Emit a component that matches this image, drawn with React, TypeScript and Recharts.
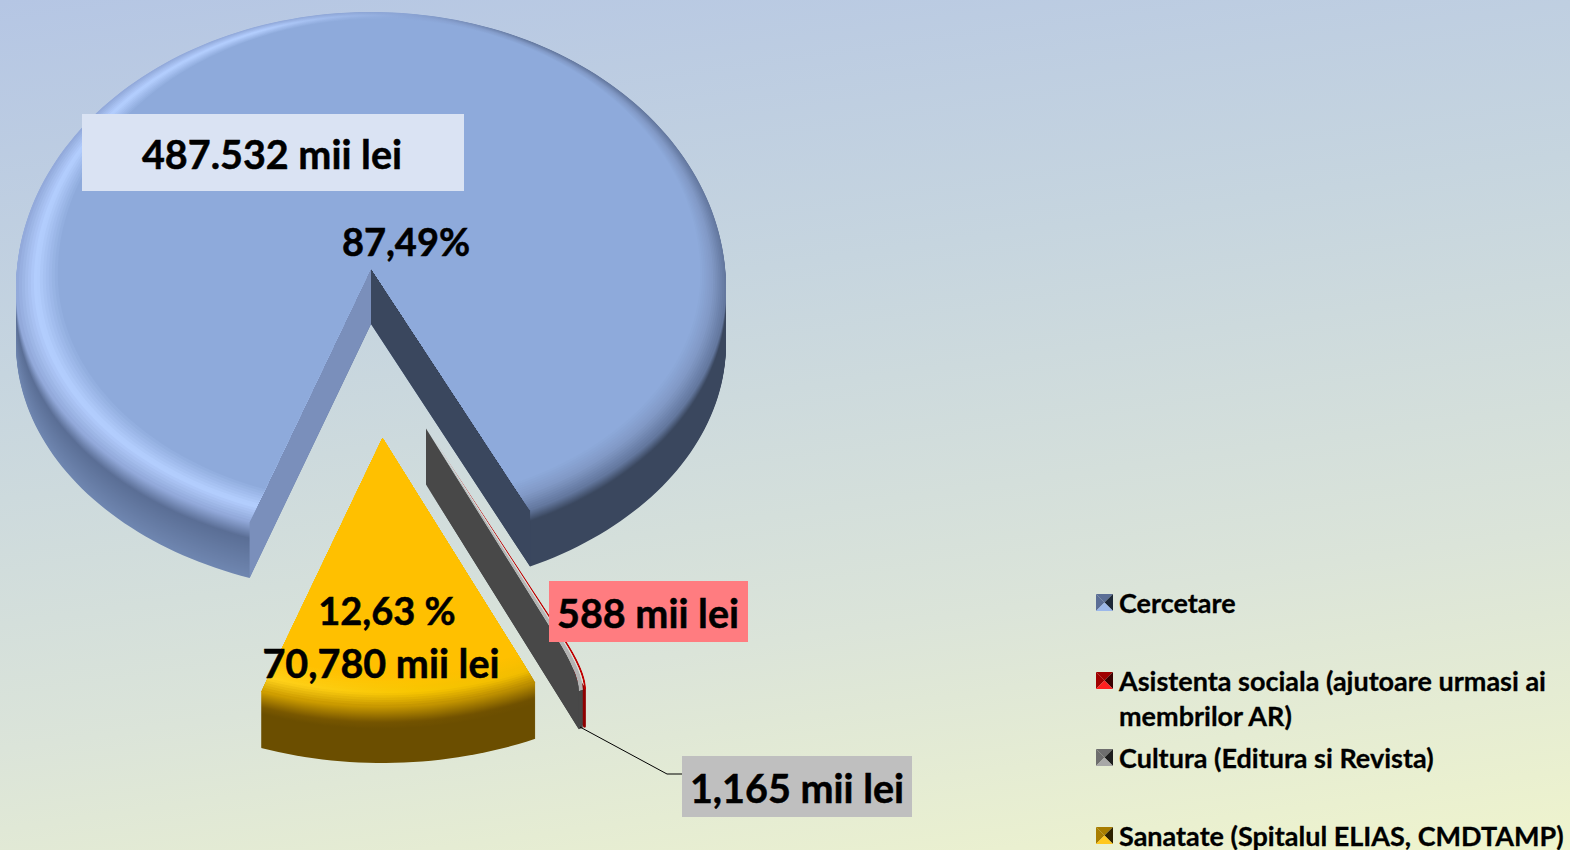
import React from 'react';
import { PieChart, Pie, Legend } from 'recharts';

const categories = [
  'Cercetare',
  'Asistenta sociala (ajutoare urmasi ai membrilor AR)',
  'Cultura (Editura si Revista)',
  'Sanatate (Spitalul ELIAS, CMDTAMP)',
];
const valuesMiiLei = [487532, 588, 1165, 70780];
const chartData = categories.map((name, i) => ({ name, value: valuesMiiLei[i] }));

type Stop = [number, string];
type Look = {
  dx: number; dy: number;
  bevel: boolean;
  left: Stop[]; mid: Stop[]; right: Stop[];
  wallStart?: string; wallEnd?: string;
  icon: [string, string, string, string];
};

// ramp position: 0..1 across the bevel (flat to rim), 1..2 down the side
const looks: Look[] = [
  {
    dx: 0, dy: 0, bevel: true,
    left: [[0, '#8eaadb'], [0.55, '#b4cfff'], [1, '#93aadb'], [1.3, '#5a6e95'], [2, '#6f86b0']],
    mid: [[0, '#8eaadb'], [1, '#8ba4d4'], [1.3, '#5a6e96'], [2, '#56688c']],
    right: [[0, '#8eaadb'], [0.5, '#8199c6'], [1, '#64789f'], [1.2, '#3a475e'], [2, '#3a475e']],
    wallStart: '#7a8fbb', wallEnd: '#3a475e',
    icon: ['#5b6e96', '#5b6e96', '#1d2838', '#9cb8ea'],
  },
  {
    dx: 56, dy: 160.5, bevel: false,
    left: [[0, '#c00000'], [1, '#c00000'], [1.02, '#8f0000'], [2, '#8f0000']],
    mid: [[0, '#c00000'], [1, '#c00000'], [1.02, '#8f0000'], [2, '#8f0000']],
    right: [[0, '#c00000'], [1, '#c00000'], [1.02, '#8f0000'], [2, '#8f0000']],
    icon: ['#a00000', '#a00000', '#3a0000', '#ff2020'],
  },
  {
    dx: 55, dy: 160.5, bevel: false,
    left: [[0, '#b4b4b4'], [1, '#b4b4b4'], [1.02, '#484848'], [2, '#484848']],
    mid: [[0, '#b4b4b4'], [1, '#b4b4b4'], [1.02, '#484848'], [2, '#484848']],
    right: [[0, '#b4b4b4'], [1, '#b4b4b4'], [1.02, '#484848'], [2, '#484848']],
    wallEnd: '#484848',
    icon: ['#6e6e6e', '#6e6e6e', '#1e1e1e', '#a8a8a8'],
  },
  {
    dx: 11.5, dy: 170, bevel: true,
    left: [[0, '#ffc000'], [0.6, '#ffd21c'], [1, '#cf9e00'], [1.28, '#7a5800'], [1.4, '#6b4e00'], [2, '#6b4e00']],
    mid: [[0, '#ffc000'], [0.6, '#f8c600'], [1, '#c69700'], [1.28, '#735300'], [1.4, '#6b4e00'], [2, '#6b4e00']],
    right: [[0, '#ffc000'], [0.6, '#f0bb00'], [1, '#b98c00'], [1.28, '#6f5000'], [1.4, '#6b4e00'], [2, '#6b4e00']],
    icon: ['#a87d00', '#a87d00', '#2e2200', '#ffc81e'],
  },
];

// The disc is seen in perspective: its far half is stretched, its near half squeezed.
const RY_FAR = 276 / 355;
const RY_NEAR = 249 / 355;
const CENTER_DROP = 20;
const DEPTH = 56;
const BEVEL_STEPS = 14;
const THIN_ROUND = 18;

const rgb = (h: string) => [1, 3, 5].map((i) => parseInt(h.slice(i, i + 2), 16));
const mix = (a: string, b: string, t: number) => {
  const x = rgb(a), y = rgb(b);
  return `rgb(${x.map((v, i) => Math.round(v + (y[i] - v) * t)).join(',')})`;
};
const ramp = (stops: Stop[], p: number) => {
  for (let i = 1; i < stops.length; i++) {
    if (p <= stops[i][0]) {
      const t = (p - stops[i - 1][0]) / (stops[i][0] - stops[i - 1][0]);
      return mix(stops[i - 1][1], stops[i][1], Math.max(0, t));
    }
  }
  return stops[stops.length - 1][1];
};

const rad = (a: number) => (a * Math.PI) / 180;

function Slice(props: any) {
  const { cx, cy, outerRadius, startAngle, endAngle, index } = props;
  const i: number = index ?? categories.indexOf(props.name);
  const look = looks[i];
  const ax = cx + look.dx;
  const ay = cy + look.dy;
  const R = outerRadius;

  const onEgg = (a: number, ex: number, ey: number, rx: number, scaleY: number) => {
    const s = Math.sin(rad(a));
    return [
      ex + rx * Math.cos(rad(a)),
      ey - R * (s > 0 ? RY_FAR : RY_NEAR) * scaleY * s,
    ];
  };
  const arc = (from: number, to: number, ex: number, ey: number, rx: number, scaleY: number) => {
    const n = Math.max(2, Math.ceil(Math.abs(to - from) / 1.5));
    const pts: string[] = [];
    for (let j = 0; j <= n; j++) {
      const p = onEgg(from + ((to - from) * j) / n, ex, ey, rx, scaleY);
      pts.push(`${p[0].toFixed(2)},${p[1].toFixed(2)}`);
    }
    return pts;
  };

  const sector = (k: number) =>
    `M${ax},${ay + k}L${arc(startAngle, endAngle, ax, ay + CENTER_DROP + k, R, 1).join('L')}Z`;

  // Thin slices end in a rounded shoulder instead of a sharp corner.
  const shoulder = (angle: number) => {
    const [x, y] = onEgg(angle, ax, ay + CENTER_DROP, R, 1);
    const f = 0.86;
    return {
      inner: [ax + (x - ax) * f, ay + (y - ay) * f],
      corner: [x, y],
      outer: [x, y + THIN_ROUND],
    };
  };
  const thinTop = () => {
    const a = shoulder(startAngle);
    const b = shoulder(endAngle);
    return `M${ax},${ay}L${a.inner}Q${a.corner} ${a.outer}L${b.outer}Q${b.corner} ${b.inner}Z`;
  };
  const wall = (angle: number) => {
    const [x, y] = onEgg(angle, ax, ay + CENTER_DROP, R, 1);
    if (!look.bevel) {
      const s = shoulder(angle);
      return `M${ax},${ay}L${s.inner}Q${s.corner} ${s.outer}L${x},${y + DEPTH}L${ax},${ay + DEPTH}Z`;
    }
    return `M${ax},${ay}L${x},${y}L${x},${y + DEPTH}L${ax},${ay + DEPTH}Z`;
  };

  const layers: { d: string; p: number }[] = [];
  const lastLayer = look.bevel ? 0 : THIN_ROUND;
  for (let k = DEPTH; k >= lastLayer; k -= 1) layers.push({ d: sector(k), p: 1 + k / DEPTH });

  const walls = [
    look.wallStart ? { d: wall(startAngle), f: look.wallStart } : null,
    look.wallEnd ? { d: wall(endAngle), f: look.wallEnd } : null,
  ];

  const surface: { d: string; p: number }[] = [];
  if (look.bevel) {
    for (let s = BEVEL_STEPS; s >= 0; s--) {
      const u = s / BEVEL_STEPS;
      const q = 1 - u;
      surface.push({
        d: `M${arc(0, 360, ax + (8 * q * R) / 355, ay + CENTER_DROP - 14 * q, R * (1 - 0.095 * q), 1 - 0.075 * q).join('L')}Z`,
        p: u,
      });
    }
  } else {
    surface.push({ d: thinTop(), p: 0 });
  }

  const id = (n: number) => `grad-${i}-${n}`;
  const clip = `clip-${i}`;
  const all = [...layers, ...surface];
  const nLayers = layers.length;

  return (
    <g>
      <defs>
        <clipPath id={clip}><path d={look.bevel ? sector(0) : thinTop()} /></clipPath>
        {all.map((l, n) => (
          <linearGradient key={n} id={id(n)} gradientUnits="userSpaceOnUse" x1={ax - R} y1={0} x2={ax + R} y2={0}>
            <stop offset="0" stopColor={ramp(look.left, l.p)} />
            <stop offset="0.34" stopColor={ramp(look.left, l.p)} />
            <stop offset="0.55" stopColor={ramp(look.mid, l.p)} />
            <stop offset="0.72" stopColor={ramp(look.right, l.p)} />
            <stop offset="1" stopColor={ramp(look.right, l.p)} />
          </linearGradient>
        ))}
      </defs>
      {layers.map((l, n) => <path key={n} d={l.d} fill={`url(#${id(n)})`} />)}
      {walls.map((w, n) => (w ? <path key={`w${n}`} d={w.d} fill={w.f} /> : null))}
      <g clipPath={`url(#${clip})`}>
        {surface.map((l, n) => <path key={`s${n}`} d={l.d} fill={`url(#${id(nLayers + n)})`} />)}
      </g>
    </g>
  );
}

const labelFont = { fontFamily: 'Lato, sans-serif', fontWeight: 700, fill: '#000', stroke: '#000', strokeWidth: 0.5 } as const;

function SliceLabel(props: any) {
  const i: number = props.index;
  const t = (x: number, y: number, s: string, size = 39.5) => (
    <text x={x} y={y} textAnchor="middle" dominantBaseline="central" fontSize={size} {...labelFont}>{s}</text>
  );
  if (i === 0) {
    return (
      <g>
        <rect x={82} y={114} width={382} height={77} fill="#dae3f3" />
        {t(272, 153, '487.532 mii lei')}
        {t(406, 241, '87,49%', 38)}
      </g>
    );
  }
  if (i === 1) {
    return (
      <g>
        <rect x={549} y={581} width={199} height={61} fill="#ff7c80" />
        {t(648, 612, '588 mii lei')}
      </g>
    );
  }
  if (i === 2) {
    return (
      <g>
        <polyline points="580,727 667,774 682,774" fill="none" stroke="#000" strokeWidth={1} />
        <rect x={682} y={756} width={230} height={61} fill="#bfbfbf" />
        {t(797, 787, '1,165 mii lei')}
      </g>
    );
  }
  return (
    <g>
      {t(387, 610, '12,63 %', 38)}
      {t(381, 662, '70,780 mii lei')}
    </g>
  );
}

function LegendIcon({ colors }: { colors: string[] }) {
  return (
    <svg width={17} height={17} style={{ position: 'absolute', left: 0, top: 9 }}>
      <polygon points="0,0 17,0 8.5,8.5" fill={colors[0]} />
      <polygon points="0,0 0,17 8.5,8.5" fill={colors[1]} />
      <polygon points="17,0 17,17 8.5,8.5" fill={colors[2]} />
      <polygon points="0,17 17,17 8.5,8.5" fill={colors[3]} />
    </svg>
  );
}

function LegendBody(props: any) {
  return (
    <div>
      {(props.payload || []).map((e: any, i: number) => (
        <div key={i} style={{ position: 'relative', height: 77.5 }}>
          <LegendIcon colors={looks[i].icon} />
          <div
            style={{
              position: 'absolute', left: 23, top: 0, width: 452,
              font: '700 27px/35px Lato, sans-serif', color: '#000',
              WebkitTextStroke: '0.3px #000',
            }}
          >
            {e.value}
          </div>
        </div>
      ))}
    </div>
  );
}

export default function App() {
  return (
    <div
      style={{
        position: 'fixed', left: 0, top: 0, width: 1570, height: 850, overflow: 'hidden',
        background: 'linear-gradient(172deg,#b5c6e4 0%,#c6d5df 35%,#dbe4d9 70%,#eff4cd 100%)',
      }}
    >
      <PieChart width={1570} height={850} margin={{ top: 0, right: 0, bottom: 0, left: 0 }}>
        <Pie
          data={chartData}
          dataKey="value"
          nameKey="name"
          cx={371}
          cy={268}
          outerRadius={355}
          startAngle={250}
          endAngle={-110}
          stroke="none"
          shape={Slice}
          label={SliceLabel}
          labelLine={false}
          isAnimationActive={false}
        />
        <Legend
          content={LegendBody}
          itemSorter={null}
          wrapperStyle={{ position: 'absolute', left: 1096, top: 585, width: 474, height: 310 }}
        />
      </PieChart>
    </div>
  );
}
